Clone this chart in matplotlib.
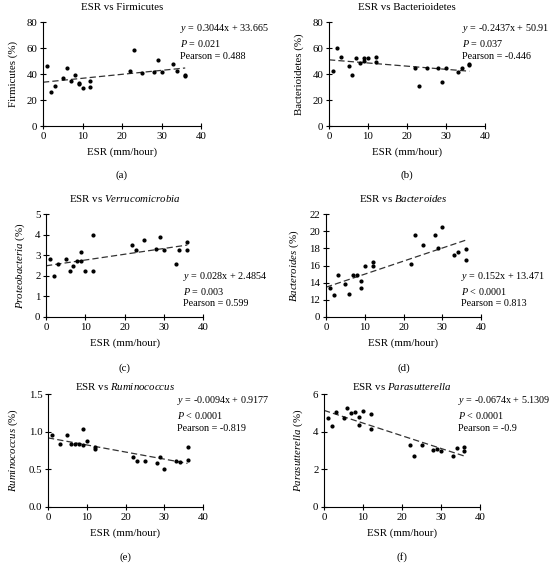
import matplotlib
matplotlib.use("Agg")
import matplotlib.pyplot as plt
import numpy as np

# ===============================
# DATA
# ===============================
esr = [1, 2, 3, 5, 6, 7, 8, 9, 9, 10, 12, 12, 22, 23, 25, 28, 29, 30, 33, 34, 36, 36]
esr_rumino = [1, 3, 5, 6, 7, 8, 9, 9, 10, 12, 12, 22, 23, 25, 28, 29, 30, 33, 34, 36, 36]

firmicutes = [46, 26.5, 31, 37, 45, 34.5, 39.5, 33, 32.5, 29.5, 34.5, 30,
              42, 58.5, 41, 41.5, 51, 41.5, 48, 42, 39, 38.5]
bacterioidetes = [42, 60, 53, 46, 39, 52, 48.5, 50, 52.5, 52.5, 49.5, 53,
                  44.5, 30.5, 45, 44.5, 34, 45, 41.5, 44.5, 47, 48]
proteobacteria = [2.8, 2.0, 2.55, 2.8, 2.25, 2.5, 2.7, 2.7, 3.15, 2.25, 4.0, 2.25,
                  3.5, 3.25, 3.75, 3.3, 3.9, 3.25, 2.55, 3.25, 3.65, 3.25]
bacteroides = [13.4, 12.6, 14.9, 13.9, 12.7, 14.9, 14.9, 14.2, 13.4, 16.0, 16.4, 15.9,
               16.2, 19.6, 18.4, 19.6, 18.0, 20.5, 17.2, 17.6, 17.9, 16.6]
ruminococcus = [0.95, 0.83, 0.96, 0.84, 0.84, 0.83, 1.03, 0.82, 0.88, 0.80, 0.77,
                0.67, 0.61, 0.61, 0.59, 0.66, 0.51, 0.61, 0.60, 0.80, 0.63]
parasutterella = [4.75, 4.3, 5.05, 4.7, 5.25, 5.0, 5.05, 4.8, 4.35, 5.1, 4.95, 4.15,
                  3.3, 2.7, 3.3, 3.05, 3.1, 2.95, 2.7, 3.15, 3.2, 2.95]

slopes = [0.3044, -0.2437, 0.028, 0.152, -0.0094, -0.0674]
intercepts = [33.665, 50.91, 2.4854, 13.471, 0.9177, 5.1309]
eq_texts = ["0.3044x + 33.665", "-0.2437x + 50.91", "0.028x + 2.4854",
            "0.152x + 13.471", "-0.0094x + 0.9177", "-0.0674x + 5.1309"]
p_texts = ["= 0.021", "= 0.037", "= 0.003", "< 0.0001", "< 0.0001", "< 0.0001"]
pearson = ["0.488", "-0.446", "0.599", "0.813", "-0.819", "-0.9"]

titles = ["ESR vs Firmicutes", "ESR vs Bacterioidetes",
          r"ESR vs $\mathit{Verrucomicrobia}$", r"ESR vs $\mathit{Bacteroides}$",
          r"ESR vs $\mathit{Ruminococcus}$", r"ESR vs $\mathit{Parasutterella}$"]
ylabels = ["Firmicutes (%)", "Bacterioidetes (%)", r"$\mathit{Proteobacteria}$ (%)",
           r"$\mathit{Bacteroides}$ (%)", r"$\mathit{Ruminococcus}$ (%)",
           r"$\mathit{Parasutterella}$ (%)"]
panel_labels = ["(a)", "(b)", "(c)", "(d)", "(e)", "(f)"]

yticks = [[0, 20, 40, 60, 80], [0, 20, 40, 60, 80], [0, 1, 2, 3, 4, 5],
          [0, 12, 14, 16, 18, 20, 22], [0.0, 0.5, 1.0, 1.5], [0, 2, 4, 6]]
ytick_labels = [None, None, None, None, ["0.0", "0.5", "1.0", "1.5"], None]

# ===============================
# STYLE
# ===============================
plt.rcParams["font.family"] = ["Liberation Serif", "DejaVu Serif"]
plt.rcParams["mathtext.fontset"] = "custom"
plt.rcParams["mathtext.rm"] = "Liberation Serif"
plt.rcParams["mathtext.it"] = "Liberation Serif:italic"
plt.rcParams["font.size"] = 7.8

W, H = 554, 563
fig = plt.figure(figsize=(W / 100, H / 100), dpi=100)

# axes boxes in pixels: left, right, top, bottom
boxes = [(43, 201, 22, 126), (329, 485, 22, 126),
         (46, 203, 214, 317), (326, 481, 214, 317),
         (48, 203, 394, 507), (324, 480, 394, 507)]
text_pos = [(0.87, 1.0), (0.855, 1.0), (0.87, 0.46), (0.87, 0.46), (0.83, 1.0), (0.86, 1.0)]
title_pad = [9, 9, 9, 9, 3, 3]
label_y = [175, 175, 368, 368, 557, 557]

series = [(esr, firmicutes), (esr, bacterioidetes), (esr, proteobacteria),
          (esr, bacteroides), (esr_rumino, ruminococcus), (esr, parasutterella)]

for i in range(6):
    l, r, t, b = boxes[i]
    ax = fig.add_axes([l / W, 1 - b / H, (r - l) / W, (b - t) / H])
    x, y = series[i]
    x = np.array(x)
    y = np.array(y, dtype=float)
    xs = np.array([0, 36])
    ys = slopes[i] * xs + intercepts[i]

    if i == 3:
        # broken axis: 0 then 12..22
        y = y - 10
        ys = ys - 10
        ax.set_ylim(0, 12)
        ax.set_yticks([0, 2, 4, 6, 8, 10, 12])
        ax.set_yticklabels([str(v) for v in yticks[i]])
    else:
        ax.set_ylim(yticks[i][0], yticks[i][-1])
        ax.set_yticks(yticks[i])
        if ytick_labels[i]:
            ax.set_yticklabels(ytick_labels[i])

    ax.scatter(x, y, s=4, color="black", zorder=3, clip_on=False)
    ax.plot(xs, ys, linestyle=(0, (5, 2.5)), color="#333333", linewidth=0.9)

    ax.set_xlim(0, 40)
    ax.set_xticks([0, 10, 20, 30, 40])
    ax.spines["top"].set_visible(False)
    ax.spines["right"].set_visible(False)
    ax.spines["left"].set_linewidth(0.8)
    ax.spines["bottom"].set_linewidth(0.8)
    ax.tick_params(direction="inout", length=4, width=0.8, pad=2)
    ax.set_title(titles[i], fontsize=7.8, pad=title_pad[i])
    ax.set_xlabel("ESR (mm/hour)", labelpad=5)
    ax.set_ylabel(ylabels[i], labelpad=6)

    tx, ty = text_pos[i]
    txt = (r"$\mathit{y}$ = " + eq_texts[i] + "\n"
           + r"$\mathit{P}$ " + p_texts[i] + "\n"
           + "Pearson = " + pearson[i])
    ax.text(tx, ty, txt, transform=ax.transAxes, ha="left", va="top",
            fontsize=7.3, linespacing=1.35, clip_on=False)

    fig.text((l + r) / 2 / W, 1 - label_y[i] / H, panel_labels[i],
             ha="center", va="center", fontsize=7.8)

fig.savefig("out.png", dpi=100)
